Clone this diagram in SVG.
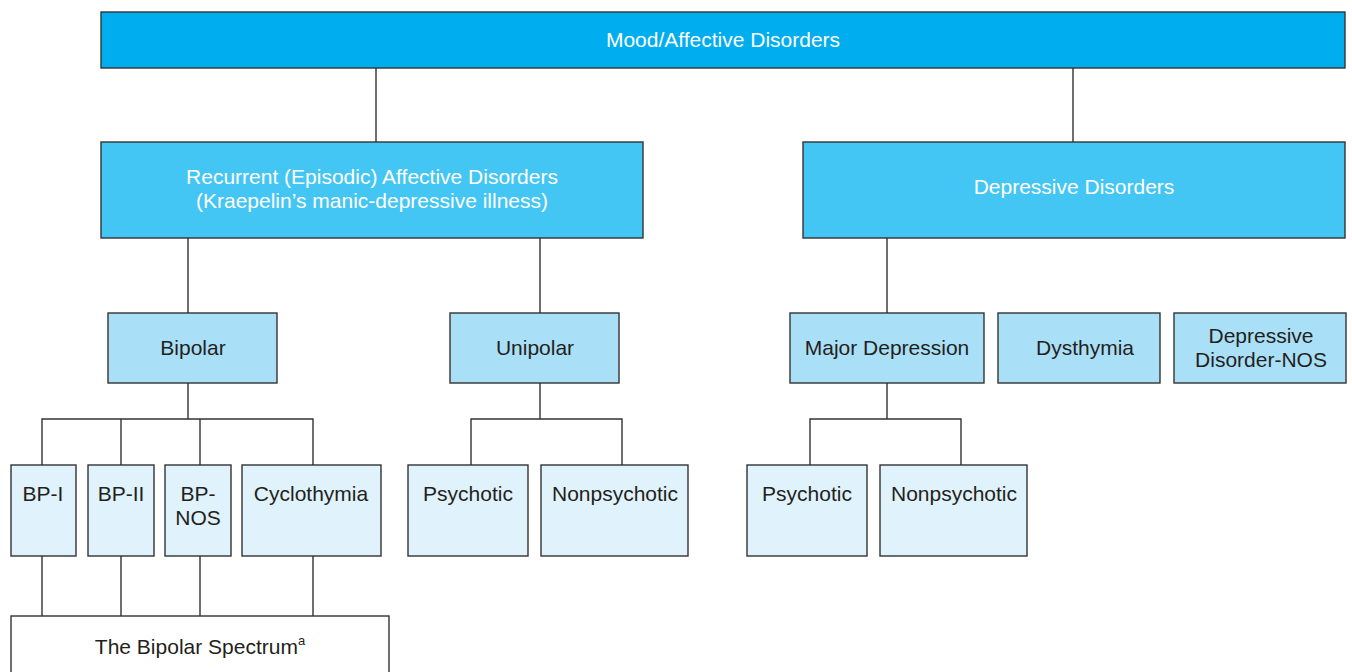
<svg xmlns="http://www.w3.org/2000/svg" width="1352" height="672" viewBox="0 0 1352 672">
<style>
rect{stroke:#333;stroke-width:1.4}
.l1{fill:#00aeef}.l2{fill:#44c6f4}.l3{fill:#aadff8}.l4{fill:#e0f2fc}.l5{fill:#fff}
text{font-family:"Liberation Sans",Arial,sans-serif;font-size:21px;text-anchor:middle;fill:#231f20}
.w{fill:#fff}
#connectors path{fill:none;stroke:#333;stroke-width:1.4}
</style>
<rect width="1352" height="672" fill="#fff" style="stroke:none"/>
<g id="connectors">
<path d="M376 68V142M1073 68V142"/>
<path d="M188 238V313M540 238V313M887 238V313"/>
<path d="M188 383V419M42 465V419H313V465M121 419V465M200 419V465"/>
<path d="M540 383V419M471 465V419H622V465"/>
<path d="M887 383V419M810 465V419H961V465"/>
<path d="M42 556V616M121 556V616M200 556V616M313 556V616"/>
</g>
<g id="n-mood"><rect class="l1" x="101" y="12" width="1244" height="56"/><text class="w" x="723" y="47">Mood/Affective Disorders</text></g>
<g id="n-recurrent"><rect class="l2" x="101" y="142" width="542" height="96"/><text class="w" x="372" y="184">Recurrent (Episodic) Affective Disorders</text><text class="w" x="372" y="208">(Kraepelin’s manic-depressive illness)</text></g>
<g id="n-depressive"><rect class="l2" x="803" y="142" width="542" height="96"/><text class="w" x="1074" y="194">Depressive Disorders</text></g>
<g id="n-bipolar"><rect class="l3" x="108" y="313" width="169" height="70"/><text x="193" y="355">Bipolar</text></g>
<g id="n-unipolar"><rect class="l3" x="450" y="313" width="169" height="70"/><text x="535" y="355">Unipolar</text></g>
<g id="n-major"><rect class="l3" x="790" y="313" width="194" height="70"/><text x="887" y="355">Major Depression</text></g>
<g id="n-dysthymia"><rect class="l3" x="998" y="313" width="162" height="70"/><text x="1085" y="355">Dysthymia</text></g>
<g id="n-ddnos"><rect class="l3" x="1174" y="313" width="172" height="70"/><text x="1261" y="343">Depressive</text><text x="1261" y="367">Disorder-NOS</text></g>
<g id="n-bp1"><rect class="l4" x="11" y="465" width="65" height="91"/><text x="43" y="501">BP-I</text></g>
<g id="n-bp2"><rect class="l4" x="88" y="465" width="66" height="91"/><text x="121" y="501">BP-II</text></g>
<g id="n-bpnos"><rect class="l4" x="165" y="465" width="66" height="91"/><text x="198" y="501">BP-</text><text x="198" y="525">NOS</text></g>
<g id="n-cyclo"><rect class="l4" x="242" y="465" width="139" height="91"/><text x="311" y="501">Cyclothymia</text></g>
<g id="n-upsych"><rect class="l4" x="408" y="465" width="120" height="91"/><text x="468" y="501">Psychotic</text></g>
<g id="n-unonpsych"><rect class="l4" x="541" y="465" width="147" height="91"/><text x="615" y="501">Nonpsychotic</text></g>
<g id="n-mpsych"><rect class="l4" x="747" y="465" width="120" height="91"/><text x="807" y="501">Psychotic</text></g>
<g id="n-mnonpsych"><rect class="l4" x="880" y="465" width="147" height="91"/><text x="954" y="501">Nonpsychotic</text></g>
<g id="n-spectrum"><rect class="l5" x="11" y="616" width="378" height="70"/><text x="200" y="654">The Bipolar Spectrum<tspan dy="-9" font-size="13">a</tspan></text></g>
</svg>
